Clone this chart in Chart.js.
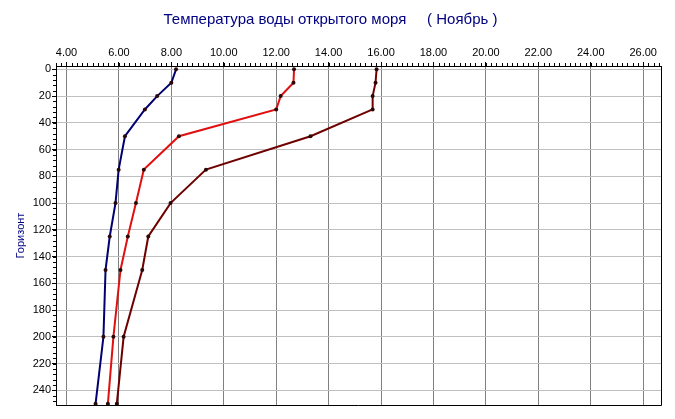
<!DOCTYPE html>
<html>
<head>
<meta charset="utf-8">
<script src="https://cdn.jsdelivr.net/npm/chart.js@4.4.1/dist/chart.umd.min.js"></script>
<style>
    body { margin: 0; background: #fff; }
    #wrap { width: 675px; height: 419px; }
</style>
</head>
<body>
<div id="wrap"><canvas id="chart" width="675" height="419"></canvas></div>
<script>
// Depth horizons (m) and temperatures per curve
const depths = [0, 10, 20, 30, 50, 75, 100, 125, 150, 200, 250];
const tempBlue = [8.18, 8.00, 7.46, 6.99, 6.23, 5.99, 5.87, 5.65, 5.49, 5.41, 5.11];
const tempRed = [12.68, 12.66, 12.17, 12.00, 8.29, 6.95, 6.65, 6.34, 6.06, 5.79, 5.58];
const tempMaroon = [15.83, 15.79, 15.68, 15.68, 13.31, 9.32, 7.97, 7.12, 6.89, 6.18, 5.92];

// Axis tick labels
const xTicks = [4, 6, 8, 10, 12, 14, 16, 18, 20, 22, 24, 26];
const yTicks = [0, 20, 40, 60, 80, 100, 120, 140, 160, 180, 200, 220, 240];

const FONT = 'Liberation Sans, Arial, sans-serif';

const toPoints = temps => depths.map((d, i) => ({ x: temps[i], y: d }));

const makeSeries = (temps, color) => ({
    data: toPoints(temps),
    showLine: true,
    borderColor: color,
    borderWidth: 2,
    tension: 0,
    pointRadius: 2,
    pointBackgroundColor: '#2a0808',
    pointBorderWidth: 0
});

// Frame on right/bottom plus minor tick marks
const framePlugin = {
    id: 'frame',
    afterDraw: (chart) => {
        const { ctx, chartArea: a, scales } = chart;
        ctx.save();
        ctx.strokeStyle = '#000';
        ctx.lineWidth = 1;
        ctx.beginPath();
        ctx.moveTo(a.left, Math.round(a.bottom) + 0.5);
        ctx.lineTo(Math.round(a.right) + 0.5, Math.round(a.bottom) + 0.5);
        ctx.lineTo(Math.round(a.right) + 0.5, a.top);
        ctx.stroke();

        // minor ticks on top axis, every 0.2
        const xs = scales.x;
        ctx.beginPath();
        for (let i = Math.ceil(xs.min / 0.2); i * 0.2 <= xs.max; i++) {
            const px = Math.round(xs.getPixelForValue(i * 0.2)) + 0.5;
            ctx.moveTo(px, a.top);
            ctx.lineTo(px, a.top - 3);
        }
        // minor ticks on left axis, every 4
        const ys = scales.y;
        for (let i = Math.ceil(ys.min / 4); i * 4 <= ys.max; i++) {
            const py = Math.round(ys.getPixelForValue(i * 4)) + 0.5;
            ctx.moveTo(a.left, py);
            ctx.lineTo(a.left - 3, py);
        }
        ctx.stroke();
        ctx.restore();
    }
};

new Chart(document.getElementById('chart'), {
    type: 'scatter',
    data: {
        datasets: [
            makeSeries(tempBlue, '#000070'),
            makeSeries(tempRed, '#e01010'),
            makeSeries(tempMaroon, '#6e0000')
        ]
    },
    options: {
        responsive: false,
        animation: false,
        layout: { padding: { left: 0, right: 14, top: 0, bottom: 14 } },
        plugins: {
            legend: { display: false },
            tooltip: { enabled: false },
            title: {
                display: true,
                text: 'Температура воды открытого моря     ( Ноябрь )',
                color: '#000080',
                font: { family: FONT, size: 15, weight: 'normal' },
                padding: { top: 11, bottom: 0 }
            }
        },
        scales: {
            x: {
                type: 'linear',
                position: 'top',
                min: 3.6,
                max: 26.68,
                afterBuildTicks: s => { s.ticks = xTicks.map(v => ({ value: v })); },
                afterFit: s => { s.height = 37; },
                grid: { color: '#808080', tickColor: '#000', tickLength: 4 },
                border: { color: '#000' },
                ticks: {
                    callback: v => Number(v).toFixed(2),
                    font: { family: FONT, size: 11 },
                    color: '#000',
                    padding: 2,
                    maxRotation: 0,
                    autoSkip: false
                }
            },
            y: {
                type: 'linear',
                reverse: true,
                min: -2.5,
                max: 251,
                afterBuildTicks: s => { s.ticks = yTicks.map(v => ({ value: v })); },
                afterFit: s => { s.width = 56; },
                grid: { color: '#c0c0c0', tickColor: '#000', tickLength: 4 },
                border: { color: '#000' },
                ticks: {
                    font: { family: FONT, size: 11 },
                    color: '#000',
                    padding: 1,
                    autoSkip: false
                },
                title: {
                    display: true,
                    text: 'Горизонт',
                    color: '#000080',
                    font: { family: FONT, size: 11 },
                    padding: { top: 14, bottom: 0 }
                }
            }
        }
    },
    plugins: [framePlugin]
});
</script>
</body>
</html>
